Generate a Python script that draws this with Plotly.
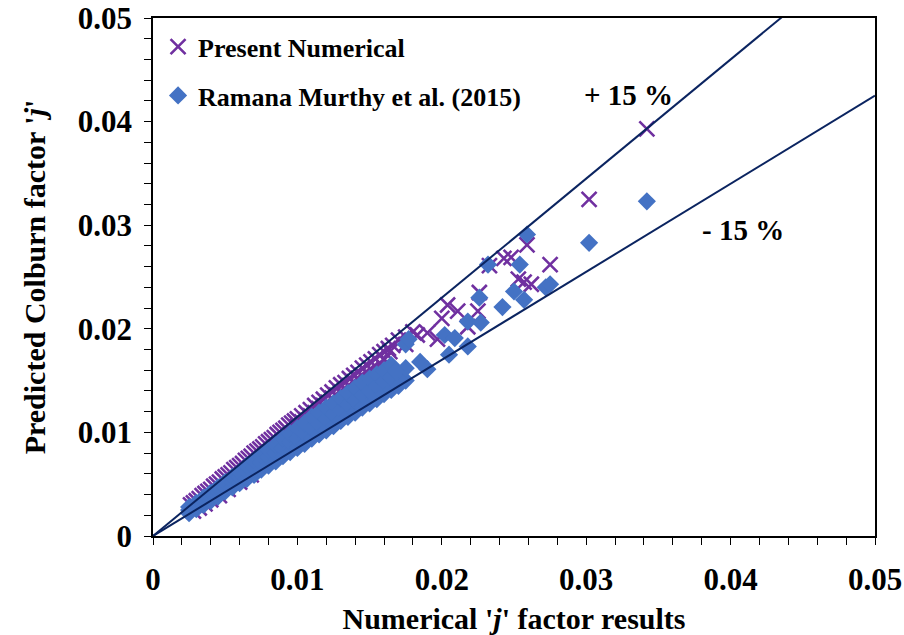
import plotly.graph_objects as go

# Present Numerical (purple x)
num_x = [0.0026, 0.0028, 0.0028, 0.0030, 0.0032, 0.0032, 0.0034, 0.0036, 0.0036, 0.0038,
         0.0040, 0.0040, 0.0042, 0.0044, 0.0046, 0.0046, 0.0048, 0.0050, 0.0052, 0.0052,
         0.0054, 0.0056, 0.0058, 0.0060, 0.0060, 0.0062, 0.0064, 0.0066, 0.0068, 0.0068,
         0.0070, 0.0072, 0.0074, 0.0076, 0.0078, 0.0080, 0.0082, 0.0084, 0.0086, 0.0088,
         0.0090, 0.0092, 0.0094, 0.0096, 0.0098, 0.0100, 0.0100, 0.0103, 0.0103, 0.0106,
         0.0106, 0.0109, 0.0109, 0.0112, 0.0112, 0.0115, 0.0115, 0.0118, 0.0118, 0.0121,
         0.0121, 0.0124, 0.0124, 0.0127, 0.0127, 0.0130, 0.0130, 0.0133, 0.0133, 0.0136,
         0.0136, 0.0139, 0.0139, 0.0142, 0.0142, 0.0145, 0.0145, 0.0148, 0.0148, 0.0151,
         0.0151, 0.0154, 0.0157, 0.0157, 0.0160, 0.0160, 0.0163, 0.0166, 0.0170, 0.0175,
         0.0175, 0.0180, 0.0164, 0.0183, 0.0190, 0.0204, 0.0211, 0.0225, 0.0226, 0.0218,
         0.0200, 0.0197, 0.0233, 0.0243, 0.0248, 0.0259, 0.0253, 0.0257, 0.0262, 0.0275,
         0.0302, 0.0342]
num_y = [0.0030, 0.0032, 0.0024, 0.0034, 0.0036, 0.0027, 0.0039, 0.0041, 0.0031, 0.0043,
         0.0045, 0.0035, 0.0048, 0.0050, 0.0052, 0.0039, 0.0055, 0.0057, 0.0059, 0.0045,
         0.0061, 0.0064, 0.0066, 0.0068, 0.0052, 0.0070, 0.0073, 0.0075, 0.0077, 0.0059,
         0.0080, 0.0082, 0.0084, 0.0086, 0.0089, 0.0091, 0.0093, 0.0095, 0.0098, 0.0100,
         0.0102, 0.0104, 0.0107, 0.0109, 0.0111, 0.0113, 0.0106, 0.0116, 0.0110, 0.0119,
         0.0112, 0.0122, 0.0116, 0.0126, 0.0119, 0.0129, 0.0123, 0.0132, 0.0126, 0.0136,
         0.0129, 0.0139, 0.0133, 0.0143, 0.0136, 0.0146, 0.0139, 0.0148, 0.0142, 0.0152,
         0.0145, 0.0155, 0.0149, 0.0158, 0.0152, 0.0162, 0.0155, 0.0165, 0.0158, 0.0168,
         0.0161, 0.0171, 0.0175, 0.0167, 0.0178, 0.0170, 0.0181, 0.0184, 0.0189, 0.0192,
         0.0185, 0.0197, 0.0178, 0.0194, 0.0196, 0.0223, 0.0217, 0.0217, 0.0235, 0.0202,
         0.0210, 0.0190, 0.0261, 0.0268, 0.0269, 0.0281, 0.0248, 0.0245, 0.0243, 0.0262,
         0.0325, 0.0393]

# Ramana Murthy et al. (2015) (blue diamonds)
rm_x = [0.0025, 0.0025, 0.0025, 0.0030, 0.0030, 0.0030, 0.0035, 0.0035, 0.0035,
        0.0040, 0.0040, 0.0040, 0.0045, 0.0045, 0.0045, 0.0050, 0.0050, 0.0050,
        0.0055, 0.0055, 0.0055, 0.0060, 0.0060, 0.0060, 0.0065, 0.0065, 0.0065,
        0.0070, 0.0070, 0.0070, 0.0075, 0.0075, 0.0075, 0.0080, 0.0080, 0.0080,
        0.0085, 0.0085, 0.0085, 0.0090, 0.0090, 0.0090, 0.0095, 0.0095, 0.0095,
        0.0100, 0.0100, 0.0100, 0.0105, 0.0105, 0.0105, 0.0110, 0.0110, 0.0110,
        0.0115, 0.0115, 0.0115, 0.0120, 0.0120, 0.0120, 0.0125, 0.0125, 0.0125,
        0.0130, 0.0130, 0.0130, 0.0135, 0.0135, 0.0135, 0.0140, 0.0140, 0.0140,
        0.0145, 0.0145, 0.0145, 0.0150, 0.0150, 0.0150, 0.0155, 0.0155, 0.0155,
        0.0160, 0.0160, 0.0160, 0.0165, 0.0165, 0.0165, 0.0170, 0.0170, 0.0175,
        0.0175, 0.0175, 0.0168, 0.0185, 0.0177, 0.0190, 0.0202, 0.0209, 0.0205,
        0.0218, 0.0218, 0.0227, 0.0226, 0.0242, 0.0232, 0.0254, 0.0250, 0.0257,
        0.0272, 0.0275, 0.0259, 0.0302, 0.0342]
rm_y = [0.0022, 0.0025, 0.0028, 0.0026, 0.0029, 0.0032, 0.0030, 0.0034, 0.0037,
        0.0034, 0.0038, 0.0042, 0.0038, 0.0043, 0.0047, 0.0043, 0.0047, 0.0052,
        0.0047, 0.0052, 0.0057, 0.0051, 0.0057, 0.0062, 0.0055, 0.0062, 0.0068,
        0.0059, 0.0066, 0.0073, 0.0064, 0.0071, 0.0078, 0.0068, 0.0076, 0.0083,
        0.0072, 0.0080, 0.0088, 0.0077, 0.0085, 0.0094, 0.0081, 0.0090, 0.0099,
        0.0085, 0.0094, 0.0104, 0.0089, 0.0099, 0.0109, 0.0094, 0.0104, 0.0115,
        0.0098, 0.0108, 0.0119, 0.0102, 0.0113, 0.0124, 0.0106, 0.0118, 0.0128,
        0.0111, 0.0122, 0.0133, 0.0115, 0.0127, 0.0138, 0.0119, 0.0131, 0.0143,
        0.0124, 0.0136, 0.0148, 0.0128, 0.0140, 0.0152, 0.0132, 0.0145, 0.0156,
        0.0137, 0.0149, 0.0160, 0.0141, 0.0153, 0.0165, 0.0145, 0.0157, 0.0150,
        0.0162, 0.0185, 0.0159, 0.0168, 0.0190, 0.0161, 0.0194, 0.0191, 0.0175,
        0.0207, 0.0183, 0.0206, 0.0230, 0.0221, 0.0262, 0.0262, 0.0236, 0.0228,
        0.0240, 0.0243, 0.0291, 0.0283, 0.0323]

# +/- 15 % reference lines
ref_x = [0.0, 0.05]
plus_factor = 1.15
minus_factor = 0.85

x_ticks = [0, 0.01, 0.02, 0.03, 0.04, 0.05]
tick_text = ["0", "0.01", "0.02", "0.03", "0.04", "0.05"]

FONT = "Liberation Serif"
PURPLE = "#7030A0"
BLUE = "#4472C4"
NAVY = "#0B2460"

fig = go.Figure()
fig.add_trace(go.Scatter(
    x=num_x, y=num_y, mode="markers", name="Present Numerical",
    legendgroup="a",
    marker=dict(symbol="x-thin", size=15, color=PURPLE,
                line=dict(color=PURPLE, width=2.6)),
))
fig.add_trace(go.Scatter(
    x=rm_x, y=rm_y, mode="markers", name="Ramana Murthy et al. (2015)",
    legendgroup="b",
    marker=dict(symbol="diamond", size=14, color=BLUE, line=dict(width=0)),
))
fig.add_trace(go.Scatter(
    x=ref_x, y=[v * plus_factor for v in ref_x], mode="lines",
    line=dict(color=NAVY, width=2), showlegend=False, hoverinfo="skip",
))
fig.add_trace(go.Scatter(
    x=ref_x, y=[v * minus_factor for v in ref_x], mode="lines",
    line=dict(color=NAVY, width=2), showlegend=False, hoverinfo="skip",
))

axis_common = dict(
    range=[0, 0.05], tickvals=x_ticks, ticktext=tick_text,
    showgrid=False, zeroline=False, automargin=False,
    showline=True, linecolor="black", linewidth=1.5, mirror=True,
    ticks="outside", ticklen=7, tickwidth=1, tickcolor="black",
    minor=dict(dtick=0.002, ticks="outside", ticklen=7, tickwidth=1, tickcolor="black"),
    tickfont=dict(family=FONT, size=31, color="black", weight="bold"),
)

fig.update_layout(
    width=904, height=635,
    margin=dict(l=153, r=29, t=18, b=99),
    paper_bgcolor="white", plot_bgcolor="white",
    font=dict(family=FONT, color="black"),
    xaxis=dict(**axis_common, ticklabelstandoff=8,
               title=dict(text="Numerical '<i>j</i>' factor results",
                          font=dict(family=FONT, size=30, weight="bold"), standoff=26)),
    yaxis=dict(**axis_common, ticklabelstandoff=6,
               title=dict(text="Predicted Colburn factor '<i>j</i>'",
                          font=dict(family=FONT, size=30, weight="bold"), standoff=23)),
    legend=dict(x=0.007, y=0.99, xanchor="left", yanchor="top",
                bgcolor="rgba(0,0,0,0)", traceorder="grouped", tracegroupgap=12,
                font=dict(family=FONT, size=26, color="black", weight="bold"),
                itemwidth=30),
    showlegend=True,
    annotations=[
        dict(x=0.0329, y=0.04255, xref="x", yref="y", text="<b>+ 15 %</b>",
             showarrow=False, font=dict(family=FONT, size=29, color="black")),
        dict(x=0.04085, y=0.0295, xref="x", yref="y", text="<b>- 15 %</b>",
             showarrow=False, font=dict(family=FONT, size=29, color="black")),
    ],
)

fig.write_html("out.html")
